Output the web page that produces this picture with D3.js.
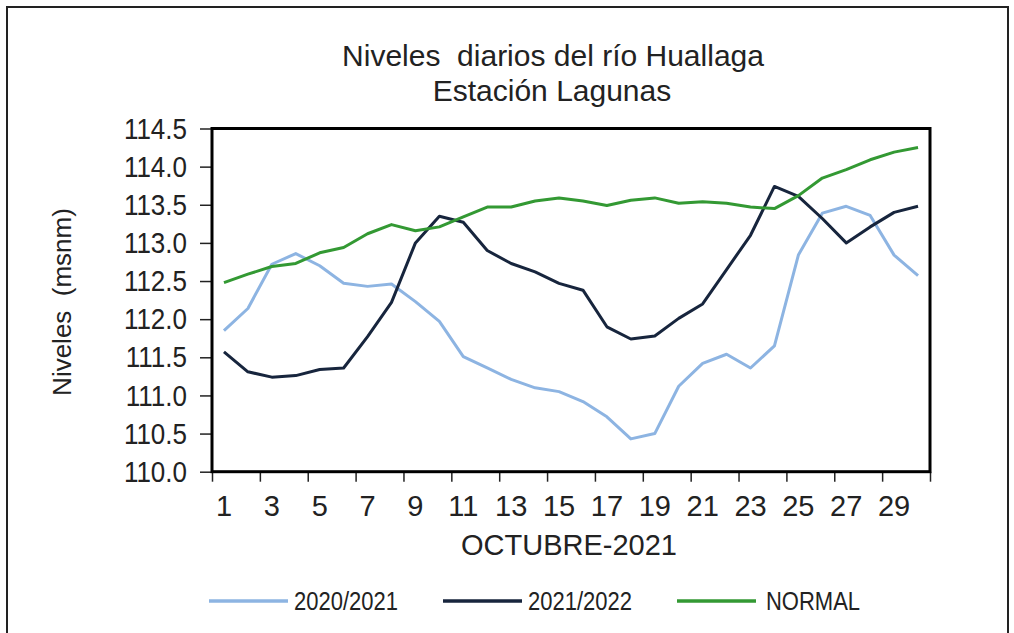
<!DOCTYPE html>
<html>
<head>
<meta charset="utf-8">
<script src="https://cdn.jsdelivr.net/npm/d3@7"></script>
<style>
  body { margin: 0; background: #fff; }
  svg text { font-family: "Liberation Sans", Arial, sans-serif; fill: #222; white-space: pre; }
</style>
</head>
<body>
<svg id="chart" width="1014" height="633"></svg>
<script>
// days of October (categories)
const days = [1, 2, 3, 4, 5, 6, 7, 8, 9, 10, 11, 12, 13, 14, 15,
  16, 17, 18, 19, 20, 21, 22, 23, 24, 25, 26, 27, 28, 29, 30];

const serie2020 = [111.85, 112.14, 112.72, 112.86, 112.70, 112.47, 112.43, 112.46, 112.23, 111.97,
  111.51, 111.36, 111.21, 111.10, 111.05, 110.92, 110.72, 110.43, 110.50, 111.12,
  111.42, 111.54, 111.36, 111.65, 112.84, 113.39, 113.48, 113.36, 112.84, 112.57];

const serie2021 = [111.57, 111.31, 111.24, 111.26, 111.34, 111.36, 111.77, 112.22, 113.00, 113.35,
  113.27, 112.90, 112.73, 112.62, 112.47, 112.38, 111.90, 111.74, 111.78, 112.01,
  112.20, 112.65, 113.10, 113.74, 113.61, 113.32, 113.00, 113.21, 113.40, 113.48];

const normal = [112.48, 112.59, 112.69, 112.73, 112.87, 112.94, 113.12, 113.24, 113.16, 113.21,
  113.34, 113.47, 113.47, 113.55, 113.59, 113.55, 113.49, 113.56, 113.59, 113.52,
  113.54, 113.52, 113.47, 113.45, 113.62, 113.85, 113.96, 114.09, 114.19, 114.25];

const seriesNames = ["2020/2021", "2021/2022", "NORMAL"];
const yTicks = [110.0, 110.5, 111.0, 111.5, 112.0, 112.5, 113.0, 113.5, 114.0, 114.5];
const xLabelDays = [1, 3, 5, 7, 9, 11, 13, 15, 17, 19, 21, 23, 25, 27, 29];

const colors = ["#8db4e2", "#17253d", "#339933"];
const series = [serie2020, serie2021, normal];

const svg = d3.select("#chart");

// outer frame
svg.append("rect")
  .attr("x", 7).attr("y", 7)
  .attr("width", 1001).attr("height", 640)
  .attr("fill", "none")
  .attr("stroke", "#222")
  .attr("stroke-width", 2);

// plot area
const plot = { left: 212, right: 930, top: 128.5, bottom: 471.7 };

const x = d3.scaleBand()
  .domain(days)
  .range([plot.left, plot.right]);

// category boundaries for the tick marks (every 2 days)
const xEdge = d3.scaleLinear()
  .domain([0, days.length])
  .range([plot.left, plot.right]);

const y = d3.scaleLinear()
  .domain([110, 114.5])
  .range([plot.bottom, plot.top]);

// title
const title = svg.append("g").attr("text-anchor", "middle");
title.append("text")
  .attr("x", 553).attr("y", 66)
  .style("font-size", "30px")
  .text("Niveles  diarios del río Huallaga");
title.append("text")
  .attr("x", 552).attr("y", 101)
  .style("font-size", "30px")
  .text("Estación Lagunas");

// y axis
const yAxis = svg.append("g")
  .attr("transform", `translate(${plot.left},0)`)
  .call(d3.axisLeft(y).tickValues(yTicks).tickFormat(d3.format(".1f")).tickSize(12).tickPadding(13));
yAxis.select(".domain").remove();
yAxis.selectAll(".tick line").attr("stroke", "#222").attr("stroke-width", 1.5);
yAxis.selectAll("text")
  .style("font-size", "26px")
  .attr("fill", "#222")
  .attr("transform", "scale(1,1.15)");

// x axis tick marks
const xTickAxis = svg.append("g")
  .attr("transform", `translate(0,${plot.bottom})`)
  .call(d3.axisBottom(xEdge).tickValues(d3.range(0, days.length + 1, 2)).tickFormat("").tickSize(10));
xTickAxis.select(".domain").remove();
xTickAxis.selectAll(".tick line").attr("stroke", "#222").attr("stroke-width", 1.5);

// x axis labels
const xAxis = svg.append("g")
  .attr("transform", `translate(0,${plot.bottom})`)
  .call(d3.axisBottom(x).tickValues(xLabelDays).tickSize(0).tickPadding(24));
xAxis.select(".domain").remove();
xAxis.selectAll("text")
  .style("font-size", "29px")
  .attr("fill", "#222");

// axis titles
svg.append("text")
  .attr("text-anchor", "middle")
  .attr("transform", "translate(71,302) rotate(-90)")
  .style("font-size", "26px")
  .text("Niveles  (msnm)");

svg.append("text")
  .attr("text-anchor", "middle")
  .attr("x", 569).attr("y", 555)
  .style("font-size", "29px")
  .text("OCTUBRE-2021");

// lines
const line = d3.line()
  .x((d, i) => x(days[i]) + x.bandwidth() / 2)
  .y(d => y(d));

svg.append("g")
  .selectAll("path")
  .data(series)
  .join("path")
  .attr("d", line)
  .attr("fill", "none")
  .attr("stroke", (d, i) => colors[i])
  .attr("stroke-width", 3)
  .attr("stroke-linejoin", "round");

// plot border
svg.append("rect")
  .attr("x", plot.left).attr("y", plot.top)
  .attr("width", plot.right - plot.left)
  .attr("height", plot.bottom - plot.top)
  .attr("fill", "none")
  .attr("stroke", "#000")
  .attr("stroke-width", 3);

// legend
const legend = svg.append("g")
  .selectAll("g")
  .data(seriesNames)
  .join("g")
  .attr("transform", (d, i) => `translate(${209 + i * 234},601)`);

legend.append("line")
  .attr("x1", 0).attr("x2", 79)
  .attr("stroke", (d, i) => colors[i])
  .attr("stroke-width", 3.5);

legend.append("text")
  .attr("x", (d, i) => i === 2 ? 89 : 85)
  .attr("dy", "0.35em")
  .attr("transform", "scale(1,1.15)")
  .style("font-size", "22px")
  .text(d => d);
</script>
</body>
</html>
